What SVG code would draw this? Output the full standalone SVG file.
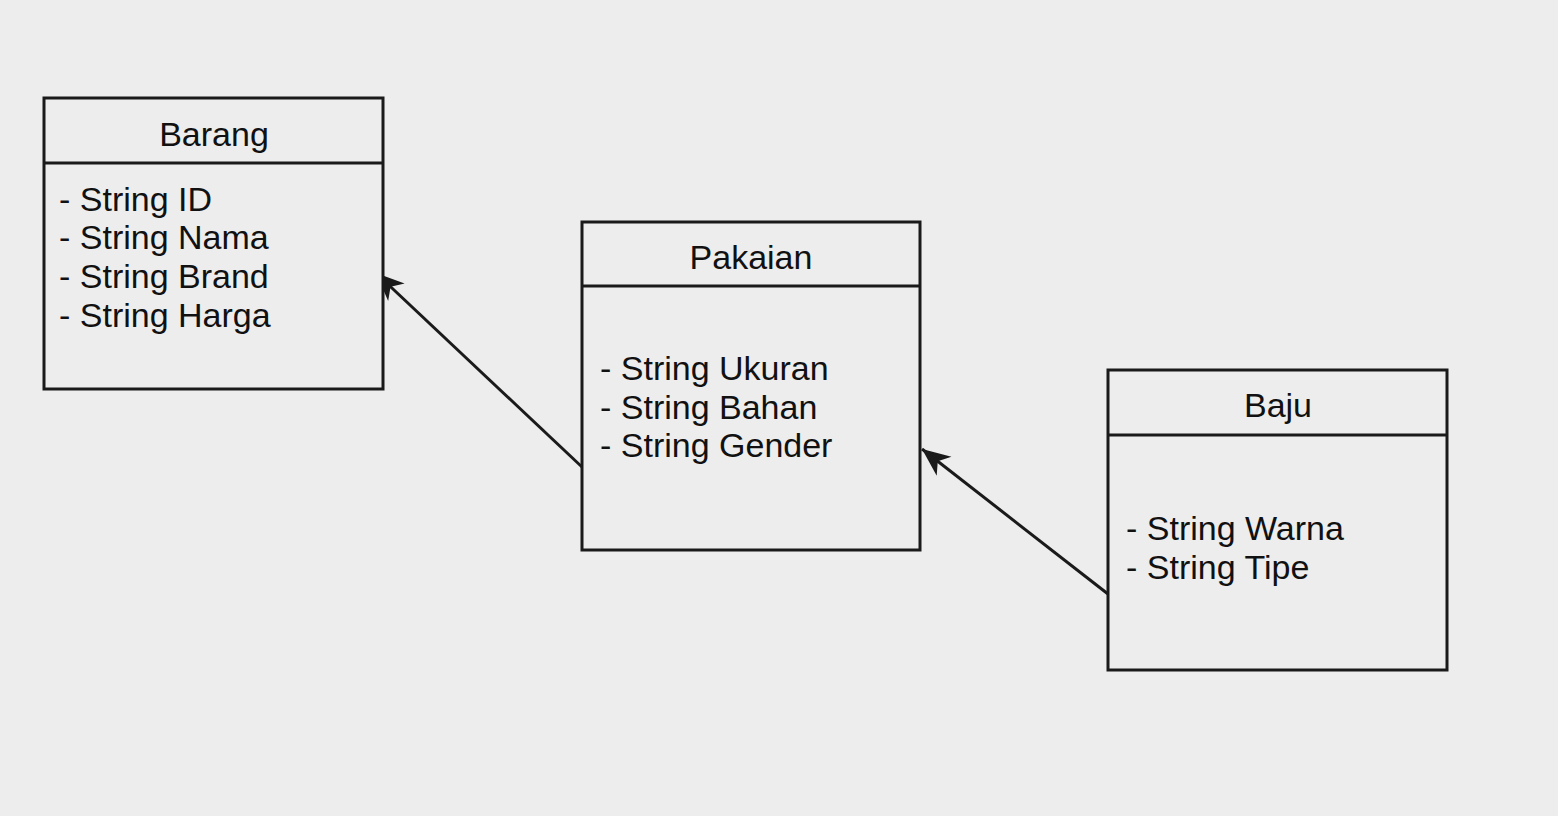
<svg xmlns="http://www.w3.org/2000/svg" width="1558" height="816" viewBox="0 0 1558 816">
<style>
.box{fill:#ededed;stroke:#1a1a1a;stroke-width:3}
.sep{stroke:#1a1a1a;stroke-width:3}
.t{font-family:"Liberation Sans",Arial,sans-serif;font-size:34px;fill:#111}
.title{text-anchor:middle}
.edge{stroke:#1a1a1a;stroke-width:3;fill:none}
</style>
<defs>
<marker id="arr" markerUnits="userSpaceOnUse" markerWidth="32" markerHeight="32" refX="0" refY="0" viewBox="-28 -14 32 28" orient="auto">
<path d="M0,0 L-28,-12 L-20,0 L-28,12 Z" fill="#1a1a1a"/>
</marker>
</defs>
<rect width="1558" height="816" fill="#ededed"/>
<g id="connectors">
<line class="edge" x1="582" y1="467" x2="376" y2="273" marker-end="url(#arr)"/>
<line class="edge" x1="1108" y1="594" x2="922" y2="449" marker-end="url(#arr)"/>
</g>
<g id="barang">
<rect class="box" x="44" y="98" width="339" height="291"/>
<line class="sep" x1="44" y1="163" x2="383" y2="163"/>
<text class="t title" x="214" y="146">Barang</text>
<text class="t" x="59" y="211">- String ID</text>
<text class="t" x="59" y="249">- String Nama</text>
<text class="t" x="59" y="288">- String Brand</text>
<text class="t" x="59" y="327">- String Harga</text>
</g>
<g id="pakaian">
<rect class="box" x="582" y="222" width="338" height="328"/>
<line class="sep" x1="582" y1="286" x2="920" y2="286"/>
<text class="t title" x="751" y="269">Pakaian</text>
<text class="t" x="600" y="380">- String Ukuran</text>
<text class="t" x="600" y="419">- String Bahan</text>
<text class="t" x="600" y="457">- String Gender</text>
</g>
<g id="baju">
<rect class="box" x="1108" y="370" width="339" height="300"/>
<line class="sep" x1="1108" y1="435" x2="1447" y2="435"/>
<text class="t title" x="1278" y="417">Baju</text>
<text class="t" x="1126" y="540">- String Warna</text>
<text class="t" x="1126" y="579">- String Tipe</text>
</g>
</svg>
